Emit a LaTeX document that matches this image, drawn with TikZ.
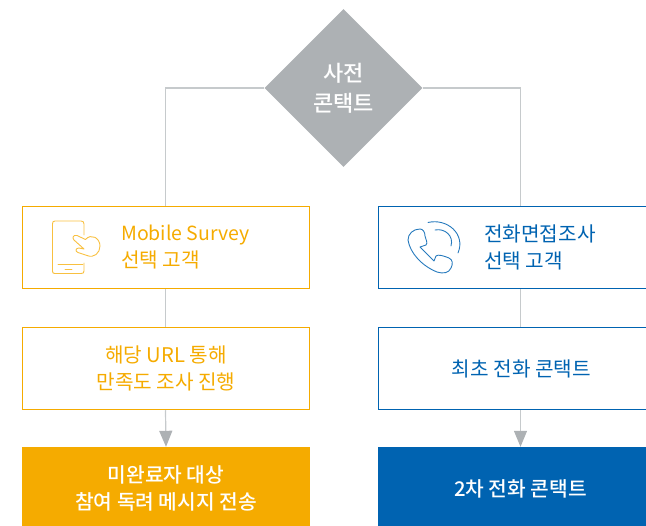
\documentclass[tikz,border=0pt]{standalone}
\usepackage{fontspec}
\setmainfont{Noto Sans CJK KR}[BoldFont={Noto Sans CJK KR Medium}]
\usetikzlibrary{shapes.geometric,arrows.meta,calc}
\definecolor{org}{HTML}{F5AB00}
\definecolor{blu}{HTML}{0063B1}
\definecolor{gry}{HTML}{ADB1B4}
\definecolor{lin}{HTML}{C6CACC}
\tikzset{
 x=1pt,y=-1pt,
 obox/.style={draw=org,line width=1pt,minimum width=287pt,minimum height=82.5pt,inner sep=0pt,text=org,font=\fontsize{20.2}{27}\selectfont,align=center},
 bbox/.style={draw=blu,line width=1pt,minimum width=287pt,minimum height=82.5pt,inner sep=0pt,text=blu,font=\fontsize{20.2}{27}\selectfont,align=center},
 ofill/.style={fill=org,minimum width=288pt,minimum height=79pt,inner sep=0pt},
 bfill/.style={fill=blu,minimum width=288pt,minimum height=79pt,inner sep=0pt},
 filltext/.style={inner sep=0pt,text=white,font=\fontsize{20.3}{27}\selectfont\bfseries,align=center},
 conn/.style={draw=lin,line width=1.2pt},
 arr/.style={conn,-{Triangle[length=16pt,width=13pt,fill=gry,color=gry]}},
 icon/.style={line width=0.9pt,line join=round,line cap=round},
}
\begin{document}
\begin{tikzpicture}
\useasboundingbox (0,0) rectangle (646,526);
\node[diamond,fill=gry,minimum width=158pt,minimum height=158pt,inner sep=0pt,text=white,align=center,font=\fontsize{22}{30}\selectfont\bfseries] (top) at (343.5,88) {사전\\콘택트};
\node[obox] (a1) at (165.5,247.5) {};
\node[obox] (a2) at (165.5,368.5) {\hspace{1pt}해당 URL 통해\\\hspace{1pt}만족도 조사 진행};
\node[ofill] (a3) at (166,486.5) {};
\node[filltext] (a3t) at (166,488.5) {미완료자 대상\\참여 독려 메시지 전송};
\node[bbox] (b1) at (521.5,247.5) {};
\node[bbox] (b2) at (521.5,368.5) {최초 전화 콘택트};
\node[bfill] (b3) at (522,486.5) {};
\node[filltext] (b3t) at (520.5,488.5) {2차 전화 콘택트};
\node[anchor=west,inner sep=0pt,text=org,align=left,font=\fontsize{20.2}{27}\selectfont] (a1t) at (121,247) {\fontsize{19.5}{27}\selectfont Mobile Survey\\선택 고객};
\node[anchor=west,inner sep=0pt,text=blu,align=left,font=\fontsize{20.2}{27}\selectfont] (b1t) at (484,247) {전화면접조사\\선택 고객};
\draw[conn] (top.west) -| (a1.north);
\draw[conn] (top.east) -| ($(b1.north)+(-1,0)$);
\draw[conn] (a1.south) -- (a2.north);
\draw[conn] ($(b1.south)+(-1,0)$) -- ($(b2.north)+(-1,0)$);
\draw[arr] (a2.south) -- (a3.north);
\draw[arr] ($(b2.south)+(-1,0)$) -- ($(b3.north)+(-1.5,0)$);
% phone-with-hand icon
\begin{scope}[icon,draw=org!75]
\draw (84,235) -- (84,224) .. controls (84,222) and (83,221) .. (81,221) -- (55,221) .. controls (53,221) and (52.5,222) .. (52.5,224) -- (52.5,271) .. controls (52.5,273) and (53,273.5) .. (55,273.5) -- (81,273.5) .. controls (83,273.5) and (84,273) .. (84,271) -- (84,263);
\draw (58,264.5) -- (83,264.5);
\draw (65,269) -- (72,269);
\draw (85.5,239.5) -- (77,235.5) .. controls (73,234.5) and (72,238) .. (74,240) -- (84,249) -- (79,248) .. controls (75.5,248) and (75,251.5) .. (78,252.5) -- (87,255.5) .. controls (94,258.5) and (100,253) .. (100,246) .. controls (100,238) and (91,233) .. (85.5,239.5);
\end{scope}
% telephone icon
\begin{scope}[icon,draw=blu!85]
\draw (420,229) .. controls (423,229) and (425,232) .. (425,236) .. controls (426,240) and (428,243) .. (426,245) -- (420,247) -- (434,261) -- (436,256) .. controls (438,254) and (444,256) .. (449,258) .. controls (453,260) and (453,264) .. (451,268) .. controls (449,273) and (443,274) .. (437,272) .. controls (422,266) and (410,253) .. (408,240) .. controls (408,234) and (413,229) .. (420,229) -- cycle;
\draw (428,222.5) .. controls (447,218) and (466,234) .. (458,253);
\draw (435,230) .. controls (445,228) and (454,236) .. (451,246);
\end{scope}
\end{tikzpicture}
\end{document}
